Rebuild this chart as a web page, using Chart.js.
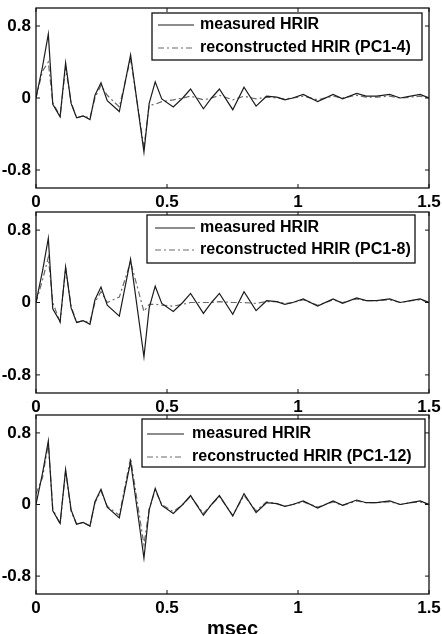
<!DOCTYPE html>
<html>
<head>
<meta charset="utf-8">
<script src="https://cdn.jsdelivr.net/npm/chart.js@4/dist/chart.umd.min.js"></script>
<style>
  body { margin: 0; background: #fff; width: 442px; height: 634px; position: relative; overflow: hidden; }
  canvas { position: absolute; left: 0; }
</style>
</head>
<body>
<canvas id="c1" width="442" height="210" style="top:0"></canvas>
<canvas id="c2" width="442" height="204" style="top:210px"></canvas>
<canvas id="c3" width="442" height="220" style="top:414px"></canvas>
<script>
// time axis in msec
const timeMs = [0, 0.025, 0.047, 0.064, 0.092, 0.113, 0.134, 0.155, 0.18, 0.206, 0.225, 0.248, 0.272, 0.318, 0.361,
  0.412, 0.432, 0.455, 0.48, 0.524, 0.56, 0.59, 0.639, 0.67, 0.70, 0.751, 0.794, 0.84, 0.88, 0.919, 0.95, 0.98,
  1.02, 1.075, 1.134, 1.17, 1.224, 1.26, 1.3, 1.35, 1.39, 1.43, 1.466, 1.5];

const measured = [0, 0.35, 0.71, -0.07, -0.21, 0.39, -0.06, -0.22, -0.2, -0.24, 0.03, 0.17, -0.03, -0.15, 0.48,
  -0.6, -0.06, 0.18, -0.01, -0.1, 0.0, 0.1, -0.12, 0.0, 0.1, -0.13, 0.12, -0.09, 0.02, 0.01, -0.02, 0.0,
  0.04, -0.04, 0.04, -0.01, 0.05, 0.02, 0.02, 0.04, 0.0, 0.02, 0.04, 0.0];

const reconPC4 = [0, 0.3, 0.4, -0.05, -0.2, 0.34, -0.05, -0.22, -0.2, -0.22, 0.0, 0.14, 0.03, -0.1, 0.44,
  -0.55, -0.08, -0.07, -0.04, -0.02, 0.0, 0.02, -0.02, 0.0, 0.03, -0.02, 0.02, -0.01, 0.01, 0.0, -0.01, 0.0,
  0.02, -0.02, 0.02, 0.0, 0.03, 0.01, 0.01, 0.02, 0.0, 0.01, 0.02, 0.0];

const reconPC8 = [0, 0.25, 0.5, 0.0, -0.22, 0.38, -0.04, -0.22, -0.2, -0.22, 0.0, 0.12, 0.0, 0.06, 0.45,
  -0.1, -0.02, -0.02, -0.03, -0.04, -0.02, 0.0, 0.0, 0.0, 0.01, 0.0, 0.0, -0.01, 0.01, 0.01, -0.01, 0.0,
  0.03, -0.03, 0.03, 0.0, 0.04, 0.02, 0.02, 0.03, 0.0, 0.02, 0.03, 0.0];

const reconPC12 = [0.12, 0.3, 0.68, -0.05, -0.22, 0.38, -0.08, -0.22, -0.2, -0.24, 0.02, 0.15, -0.02, -0.12, 0.52,
  -0.45, -0.05, 0.16, 0.0, -0.08, 0.0, 0.09, -0.1, 0.0, 0.09, -0.12, 0.1, -0.07, 0.03, 0.01, -0.02, 0.0,
  0.03, -0.03, 0.03, -0.01, 0.04, 0.02, 0.02, 0.03, 0.0, 0.02, 0.03, 0.0];

const xTicks = [0, 0.5, 1, 1.5];
const yTicks = [-0.8, 0, 0.8];
const measuredLabel = 'measured HRIR';
const reconLabels = ['reconstructed HRIR (PC1-4)', 'reconstructed HRIR (PC1-8)', 'reconstructed HRIR (PC1-12)'];
const xTitle = 'msec';

const FONT = 'Liberation Sans, Arial, Helvetica, sans-serif';

const toPoints = function (vals) {
  return timeMs.map(function (t, i) { return { x: t, y: vals[i] }; });
};

// axes box + inward tick marks
const framePlugin = {
  id: 'frame',
  afterDatasetsDraw: function (chart) {
    var ctx = chart.ctx, a = chart.chartArea, xs = chart.scales.x, ys = chart.scales.y;
    ctx.save();
    ctx.strokeStyle = '#111';
    ctx.lineWidth = 1.3;
    ctx.strokeRect(a.left, a.top, a.right - a.left, a.bottom - a.top);
    ctx.lineWidth = 1;
    ctx.beginPath();
    xTicks.forEach(function (v) {
      var px = xs.getPixelForValue(v);
      ctx.moveTo(px, a.bottom); ctx.lineTo(px, a.bottom - 4);
      ctx.moveTo(px, a.top); ctx.lineTo(px, a.top + 4);
    });
    yTicks.forEach(function (v) {
      var py = ys.getPixelForValue(v);
      ctx.moveTo(a.left, py); ctx.lineTo(a.left + 4, py);
      ctx.moveTo(a.right, py); ctx.lineTo(a.right - 4, py);
    });
    ctx.stroke();
    ctx.restore();
  }
};

// matlab style boxed legend
const boxLegend = {
  id: 'boxLegend',
  afterDraw: function (chart, args, opts) {
    var ctx = chart.ctx;
    ctx.save();
    ctx.fillStyle = '#fff';
    ctx.fillRect(opts.left, opts.top, opts.width, opts.height);
    ctx.strokeStyle = '#111';
    ctx.lineWidth = 1.3;
    ctx.strokeRect(opts.left, opts.top, opts.width, opts.height);
    ctx.font = 'bold 16px ' + FONT;
    ctx.textBaseline = 'middle';
    ctx.fillStyle = '#000';
    chart.data.datasets.forEach(function (ds, i) {
      var y = opts.rows[i];
      ctx.strokeStyle = ds.borderColor;
      ctx.lineWidth = ds.borderWidth;
      ctx.setLineDash(ds.borderDash || []);
      ctx.beginPath();
      ctx.moveTo(opts.lineX[0], y);
      ctx.lineTo(opts.lineX[1], y);
      ctx.stroke();
      ctx.fillText(ds.label, opts.textX, y);
    });
    ctx.restore();
  }
};

const makeChart = function (id, recon, reconLabel, panel) {
  var config = {
    type: 'line',
    data: {
      datasets: [
        {
          label: measuredLabel,
          data: toPoints(measured),
          borderColor: '#1c1c1c',
          borderWidth: 1.2,
          pointRadius: 0,
          tension: 0
        },
        {
          label: reconLabel,
          data: toPoints(recon),
          borderColor: '#6a6a6a',
          borderWidth: 1.2,
          borderDash: [6, 3, 2, 3],
          pointRadius: 0,
          tension: 0
        }
      ]
    },
    options: {
      responsive: false,
      animation: false,
      layout: { padding: { top: panel.padTop, right: 13, left: 0, bottom: 0 } },
      plugins: {
        legend: { display: false },
        tooltip: { enabled: false },
        boxLegend: panel.legend
      },
      scales: {
        x: {
          type: 'linear',
          min: 0,
          max: 1.5,
          afterBuildTicks: function (s) { s.ticks = xTicks.map(function (v) { return { value: v }; }); },
          afterFit: function (s) { s.height = panel.axisH; s.paddingLeft = 0; s.paddingRight = 0; },
          grid: { display: false, drawTicks: false },
          border: { display: false },
          ticks: {
            color: '#000', padding: 4, maxRotation: 0, autoSkip: false,
            font: { family: FONT, size: 17, weight: 'bold' },
            callback: function (value) { return String(value); }
          },
          title: {
            display: panel.title,
            text: xTitle,
            color: '#000',
            padding: { top: 0, bottom: 0 },
            font: { family: FONT, size: 20, weight: 'bold', lineHeight: 0.5 }
          }
        },
        y: {
          min: -1,
          max: 1,
          afterBuildTicks: function (s) { s.ticks = yTicks.map(function (v) { return { value: v }; }); },
          afterFit: function (s) { s.width = 36; s.paddingTop = 0; s.paddingBottom = 0; },
          grid: { display: false, drawTicks: false },
          border: { display: false },
          ticks: {
            color: '#000', padding: 5,
            font: { family: FONT, size: 17, weight: 'bold' },
            callback: function (value) { return String(value); }
          }
        }
      }
    },
    plugins: [framePlugin, boxLegend]
  };
  return new Chart(document.getElementById(id).getContext('2d'), config);
};

makeChart('c1', reconPC4, reconLabels[0], {
  padTop: 8, axisH: 22, title: false,
  legend: { left: 152, top: 13, width: 270, height: 47, rows: [25, 48], lineX: [158, 194], textX: 200 }
});
makeChart('c2', reconPC8, reconLabels[1], {
  padTop: 2, axisH: 21, title: false,
  legend: { left: 147, top: 5, width: 268, height: 48, rows: [18, 40], lineX: [155, 195], textX: 200 }
});
makeChart('c3', reconPC12, reconLabels[2], {
  padTop: 1, axisH: 40, title: true,
  legend: { left: 142, top: 5, width: 283, height: 48, rows: [20, 43], lineX: [147, 184], textX: 192 }
});
</script>
</body>
</html>
